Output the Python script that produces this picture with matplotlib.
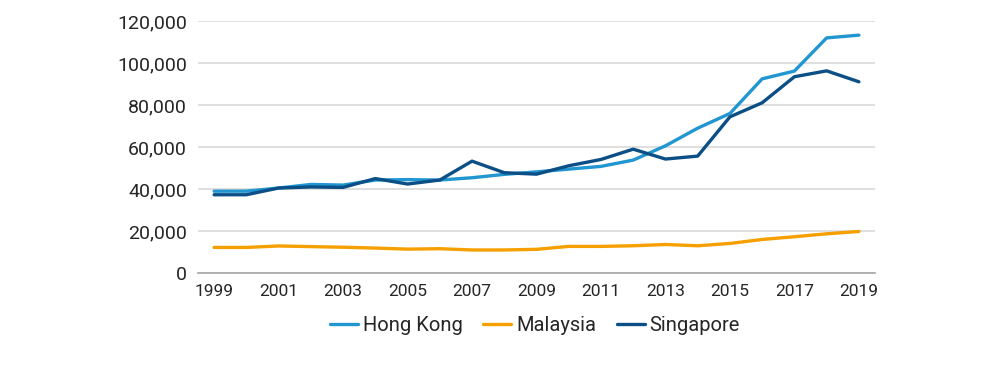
import matplotlib
matplotlib.use("Agg")
import matplotlib.pyplot as plt
from matplotlib.ticker import FuncFormatter

years = list(range(1999, 2020))
hong_kong = [39000, 39000, 40500, 42200, 41900, 44300, 44500, 44300, 45400, 47000,
             48200, 49500, 50800, 53800, 60600, 69000, 76000, 92500, 96200, 112000, 113300]
malaysia = [12200, 12200, 12900, 12600, 12300, 11900, 11400, 11600, 11000, 11000,
            11300, 12700, 12700, 13000, 13600, 13000, 14100, 16000, 17300, 18700, 19800]
singapore = [37300, 37300, 40500, 41000, 40800, 45000, 42400, 44300, 53300, 47800,
             47100, 51100, 54100, 59000, 54300, 55700, 74400, 81100, 93500, 96300, 91100]

series_names = ["Hong Kong", "Malaysia", "Singapore"]
colors = ["#2196d0", "#f5a000", "#0b4f86"]
text_color = "#262626"

plt.rcParams['font.family'] = ['Roboto', 'DejaVu Sans']

fig = plt.figure(figsize=(10, 3.7), dpi=100)
ax = fig.add_axes([0.198, 0.262, 0.677, 0.681])

x = list(range(len(years)))
for name, vals, c in zip(series_names, [hong_kong, malaysia, singapore], colors):
    ax.plot(x, vals, color=c, lw=2.4, label=name, solid_capstyle='round', solid_joinstyle='round')

ax.set_xlim(-0.5, len(years) - 0.5)
ax.set_ylim(0, 120000)
ax.set_yticks(range(0, 120001, 20000))
ax.yaxis.set_major_formatter(FuncFormatter(lambda v, p: f"{int(v):,}"))
ax.set_xticks(x[::2])
ax.set_xticklabels([str(y) for y in years[::2]])

ax.grid(axis='y', color='#d9d9d9', lw=1.2)
ax.set_axisbelow(True)
for s in ['top', 'right', 'left']:
    ax.spines[s].set_visible(False)
ax.spines['bottom'].set_color('#a6a6a6')
ax.spines['bottom'].set_linewidth(1.2)
ax.tick_params(axis='y', length=0, pad=8, labelsize=14, labelcolor=text_color)
ax.tick_params(axis='x', length=0, pad=8, labelsize=12.5, labelcolor=text_color)

fig.legend(loc='center', bbox_to_anchor=(0.535, 0.12), ncol=3, frameon=False,
           fontsize=14.5, handlelength=1.4, handletextpad=0.25, columnspacing=1.0,
           labelcolor=text_color)

fig.savefig("out.png", dpi=100)
